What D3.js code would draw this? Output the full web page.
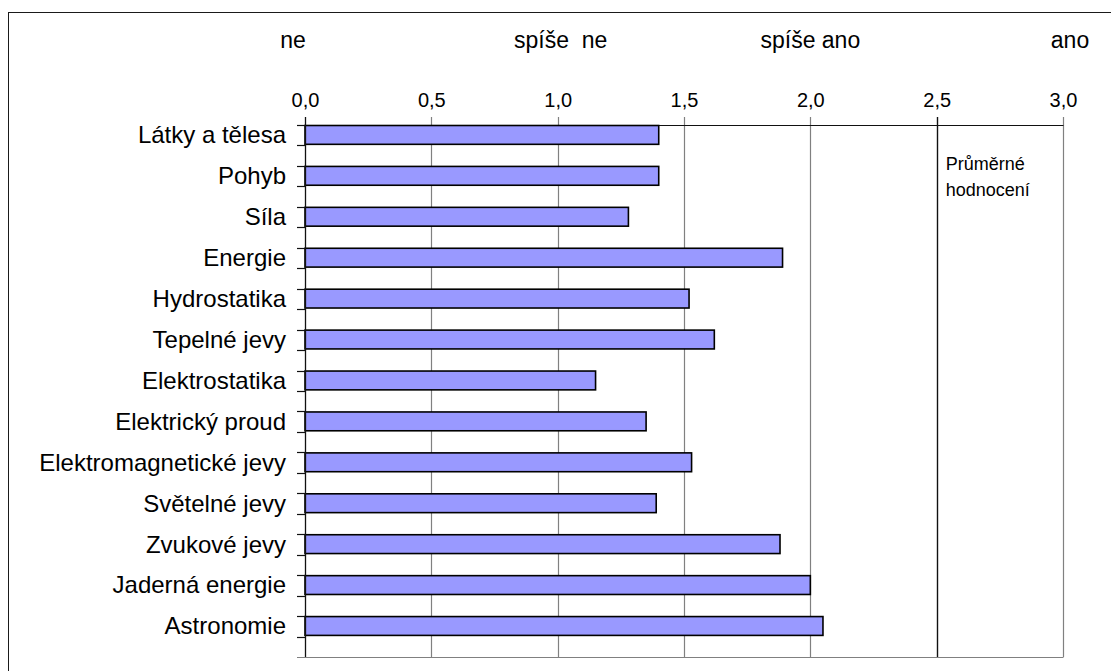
<!DOCTYPE html>
<html>
<head>
<meta charset="utf-8">
<script src="https://cdn.jsdelivr.net/npm/d3@7"></script>
<style>
  html, body { margin: 0; padding: 0; background: #fff; }
  svg { display: block; font-family: "Liberation Sans", Arial, sans-serif; }
</style>
</head>
<body>
<svg id="chart" width="1111" height="671"></svg>
<script>
// Topics of the physics curriculum and their average rating (0 = ne … 3 = ano)
const categories = [
  "Látky a tělesa", "Pohyb", "Síla", "Energie", "Hydrostatika", "Tepelné jevy",
  "Elektrostatika", "Elektrický proud", "Elektromagnetické jevy", "Světelné jevy",
  "Zvukové jevy", "Jaderná energie", "Astronomie"
];
const values = [1.40, 1.40, 1.28, 1.89, 1.52, 1.62, 1.15, 1.35, 1.53, 1.39, 1.88, 2.00, 2.05];

// Value axis ticks and the verbal scale above them
const tickValues = [0, 0.5, 1.0, 1.5, 2.0, 2.5, 3.0];
const scaleWords = ["ne", "spíše  ne", "spíše ano", "ano"];
const scaleWordValues = [0, 1, 2, 3];
const noteLines = ["Průměrné", "hodnocení"];

const svg = d3.select("#chart");

const plot = { left: 305, right: 1063, top: 125, bottom: 657 };
const x = d3.scaleLinear().domain([0, 3]).range([plot.left, plot.right]);
const y = d3.scaleBand().domain(categories).range([plot.top, plot.bottom]).paddingInner(0).paddingOuter(0);
const bw = y.bandwidth();
const barH = bw * 0.46;
const crisp = v => Math.round(v) + 0.5;

// outer frame (continues past the visible edge)
svg.append("rect")
  .attr("x", 8.5).attr("y", 12.5)
  .attr("width", 1300).attr("height", 900)
  .attr("fill", "none").attr("stroke", "#1a1a1a").attr("stroke-width", 1);

// vertical gridlines, drawn a little above the plot as tick marks
svg.append("g").selectAll("line")
  .data(tickValues.filter(d => d > 0))
  .join("line")
  .attr("x1", d => crisp(x(d))).attr("x2", d => crisp(x(d)))
  .attr("y1", plot.top - 8).attr("y2", plot.bottom)
  .attr("stroke", "#808080").attr("stroke-width", 1.2);

// bottom edge of the plot area
svg.append("line")
  .attr("x1", plot.left - 8).attr("x2", crisp(x(3)))
  .attr("y1", crisp(plot.bottom)).attr("y2", crisp(plot.bottom))
  .attr("stroke", "#808080").attr("stroke-width", 1.2);

// box holding the note on the right
svg.append("line")
  .attr("x1", crisp(x(2.5))).attr("x2", crisp(x(2.5)))
  .attr("y1", plot.top - 8).attr("y2", plot.bottom)
  .attr("stroke", "#111").attr("stroke-width", 1.3);

// value axis along the top
const fmt = d => d3.format(".1f")(d).replace(".", ",");
const xAxis = svg.append("g")
  .attr("transform", `translate(0,${plot.top})`)
  .call(d3.axisTop(x).tickValues(tickValues).tickFormat(fmt).tickSize(0).tickPadding(18).tickSizeOuter(0));
xAxis.select(".domain").attr("stroke", "#111").attr("stroke-width", 1.2);
xAxis.selectAll("text")
  .attr("font-size", 20).attr("fill", "#000")
  .attr("font-family", "Liberation Sans, Arial, sans-serif");

// verbal scale words
const wordShift = [-12, 3, 0, 7];
svg.append("g").selectAll("text")
  .data(scaleWords)
  .join("text")
  .attr("x", (d, i) => x(scaleWordValues[i]) + wordShift[i])
  .attr("y", 48)
  .attr("text-anchor", "middle")
  .attr("font-size", 23)
  .attr("xml:space", "preserve")
  .style("white-space", "pre")
  .text(d => d);

// bars
svg.append("g").selectAll("rect")
  .data(values)
  .join("rect")
  .attr("x", x(0))
  .attr("y", (d, i) => y(categories[i]) + 0.5)
  .attr("width", d => x(d) - x(0))
  .attr("height", barH)
  .attr("fill", "#9999FF")
  .attr("stroke", "#000")
  .attr("stroke-width", 1.6);

// category axis on the left with ticks at bar edges
const leftAxis = svg.append("g");
leftAxis.append("line")
  .attr("x1", crisp(plot.left - 0.5)).attr("x2", crisp(plot.left - 0.5))
  .attr("y1", plot.top - 8).attr("y2", plot.bottom)
  .attr("stroke", "#111").attr("stroke-width", 1.3);
const tickYs = [];
categories.forEach(c => { tickYs.push(y(c)); tickYs.push(y(c) + bw / 2); });
leftAxis.selectAll("line.tk")
  .data(tickYs)
  .join("line")
  .attr("class", "tk")
  .attr("x1", plot.left - 8).attr("x2", plot.left)
  .attr("y1", d => crisp(d)).attr("y2", d => crisp(d))
  .attr("stroke", "#111").attr("stroke-width", 1.2);

leftAxis.selectAll("text")
  .data(categories)
  .join("text")
  .attr("x", plot.left - 19)
  .attr("y", d => y(d) + barH / 2 + 0.5)
  .attr("dy", "0.35em")
  .attr("text-anchor", "end")
  .attr("font-size", 24)
  .attr("fill", "#000")
  .text(d => d);

// note text inside the right box
svg.append("g").selectAll("text")
  .data(noteLines)
  .join("text")
  .attr("x", x(2.5) + 9)
  .attr("y", (d, i) => 170 + i * 26)
  .attr("font-size", 18)
  .attr("fill", "#000")
  .text(d => d);
</script>
</body>
</html>
